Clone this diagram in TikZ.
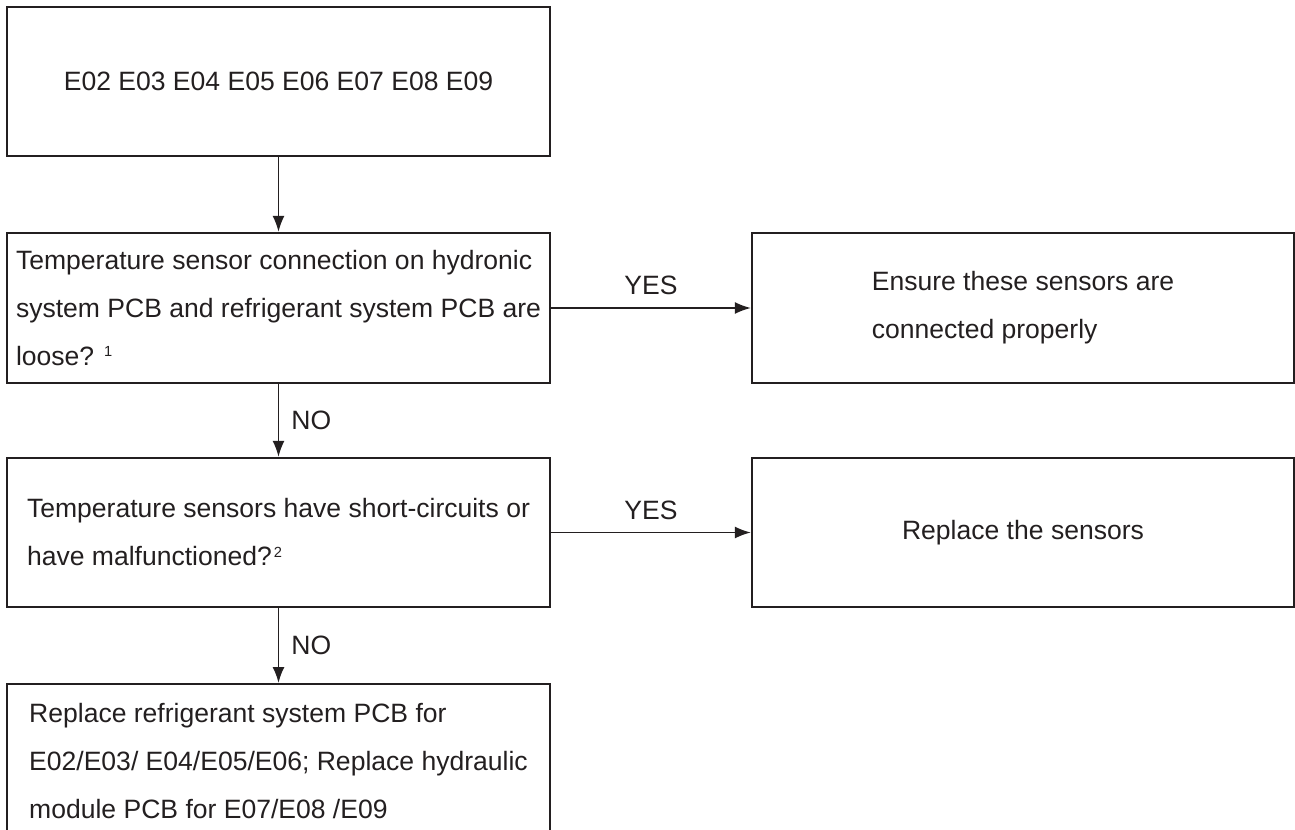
\documentclass[tikz,border=0pt]{standalone}
\usepackage{fontspec}
\setmainfont{Liberation Sans}
\usetikzlibrary{arrows.meta}
\definecolor{ink}{HTML}{231F20}
\newcommand\footmark[1]{\raisebox{6.5pt}{\fontsize{11}{11}\selectfont #1}}
\tikzset{
  txt/.style={text=ink, inner sep=0pt, font=\fontsize{19.9}{36}\selectfont},
  box/.style={txt, draw=ink, line width=1.7pt, rectangle, align=left},
  lbox/.style={box, minimum width=407.25pt},
  rbox/.style={box, minimum width=406.5pt},
  flow/.style={draw=ink, line width=1.3pt, -{Latex[length=12pt,width=9pt]}},
  tag/.style={text=ink, inner sep=0pt, font=\fontsize{19.9}{22}\selectfont}
}

\begin{document}
\begin{tikzpicture}[x=0.75pt, y=-0.75pt]
  %%%%% START %%%%%
  \clip (0,0) rectangle (1295,830);

  \node[lbox, minimum height=111.75pt] (codes) at (278.5,81.5)
    {E02 E03 E04 E05 E06 E07 E08 E09};

  \node[lbox, minimum height=112.5pt] (loose) at (278.5,308)
    {Temperature sensor connection on hydronic\\
     system PCB and refrigerant system PCB are\\
     loose? \footmark{1}};
  \node[rbox, minimum height=112.5pt] (ensure) at (1023,308)
    {Ensure these sensors are\\ connected properly};

  \node[lbox, minimum height=111.75pt] (short) at (278.5,532.5)
    {Temperature sensors have short-circuits or\\
     have malfunctioned?\kern1.5pt\footmark{2}};
  \node[rbox, minimum height=111.75pt] (replace) at (1023,532.5)
    {Replace the sensors};

  % last box runs off the bottom of the page
  \node[lbox, anchor=north, inner ysep=14pt] (pcb) at (278.5,683)
    {Replace refrigerant system PCB for\\
     E02/E03/ E04/E05/E06; Replace hydraulic\\
     module PCB for E07/E08 /E09};

  \draw[flow] (codes) -- (loose);
  \draw[flow] (loose) -- node[tag, above=9pt] (yes1) {YES} (ensure);
  \draw[flow] (loose) -- node[tag, right=9pt] (no1) {NO} (short);
  \draw[flow] (short) -- node[tag, above=9pt] (yes2) {YES} (replace);
  \draw[flow] (short) -- node[tag, right=9pt] (no2) {NO} (pcb);
  %%%%% END %%%%%
\end{tikzpicture}
\end{document}
